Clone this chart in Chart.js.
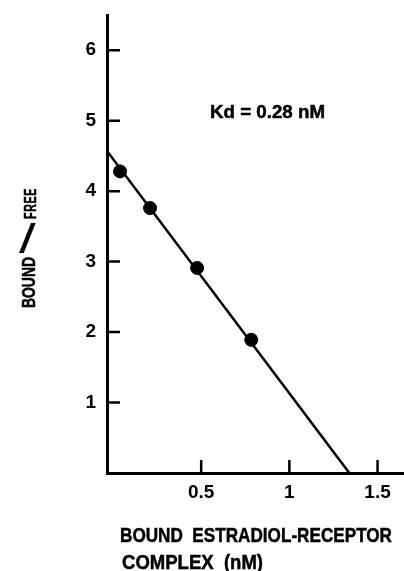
<!DOCTYPE html>
<html>
<head>
<meta charset="utf-8">
<script src="https://cdn.jsdelivr.net/npm/chart.js@4"></script>
<style>
  body { margin: 0; background: #fff; }
  #wrap { width: 404px; height: 571px; position: relative; }
</style>
</head>
<body>
<div id="wrap"><canvas id="scatchard"></canvas></div>
<script>
// measured points (bound nM, bound/free)
const boundValues = [0.04, 0.21, 0.477, 0.784];
const ratioValues = [4.28, 3.76, 2.91, 1.89];

// fitted line end points
const fitX = [-0.034, 1.34];
const fitY = [4.57, 0];

const xTicks = [0.5, 1, 1.5];
const xTickLabels = ['0.5', '1', '1.5'];
const yTicks = [1, 2, 3, 4, 5, 6];

const kdLabel = 'Kd = 0.28 nM';
const xTitle = ['BOUND  ESTRADIOL-RECEPTOR', 'COMPLEX  (nM)'];
const yTitle = ['BOUND', '/', 'FREE'];

const FONT = "'Liberation Sans', Arial, sans-serif";

// draw text squeezed to a given width (the original uses a condensed face)
function fitText(ctx, text, x, y, width, size) {
  ctx.font = 'bold ' + size + 'px ' + FONT;
  const w = ctx.measureText(text).width;
  ctx.save();
  ctx.translate(x, y);
  ctx.scale(width / w, 1);
  ctx.fillText(text, 0, 0);
  ctx.strokeText(text, 0, 0);
  ctx.restore();
}

// same but running upwards, starting at yBottom
function upText(ctx, text, x, yBottom, length, size) {
  ctx.font = 'bold ' + size + 'px ' + FONT;
  const w = ctx.measureText(text).width;
  ctx.save();
  ctx.translate(x, yBottom);
  ctx.rotate(-Math.PI / 2);
  ctx.scale(length / w, 1);
  ctx.fillText(text, 0, 0);
  ctx.strokeText(text, 0, 0);
  ctx.restore();
}

// inward tick marks + free text
const extras = {
  id: 'extras',
  afterDraw(chart) {
    const ctx = chart.ctx;
    const x = chart.scales.x;
    const y = chart.scales.y;
    const area = chart.chartArea;
    ctx.save();
    ctx.strokeStyle = '#000';
    ctx.lineWidth = 2.5;
    ctx.beginPath();
    yTicks.forEach(v => {
      const py = y.getPixelForValue(v);
      ctx.moveTo(area.left, py);
      ctx.lineTo(area.left + 13, py);
    });
    xTicks.forEach(v => {
      const px = x.getPixelForValue(v);
      ctx.moveTo(px, area.bottom);
      ctx.lineTo(px, area.bottom - 13);
    });
    ctx.stroke();

    ctx.fillStyle = '#000';
    ctx.lineWidth = 0.5;
    ctx.textAlign = 'left';
    ctx.textBaseline = 'alphabetic';
    fitText(ctx, kdLabel, 210, 118, 115, 18);
    fitText(ctx, xTitle[0], 120, 542, 272, 20.5);
    fitText(ctx, xTitle[1], 122, 569, 141, 20.5);

    // y title: BOUND, a long upright slash, then FREE spaced out
    upText(ctx, yTitle[0], 35, 308, 51, 17.5);
    ctx.save();
    ctx.font = '40px ' + FONT;
    ctx.translate(19, 253);
    ctx.scale(1.5, 1);
    ctx.fillText(yTitle[1], 0, 0);
    ctx.restore();
    ctx.letterSpacing = '1px';
    upText(ctx, yTitle[2], 36, 219, 31, 16);
    ctx.restore();
  }
};

new Chart(document.getElementById('scatchard'), {
  type: 'scatter',
  data: {
    datasets: [
      {
        data: boundValues.map((v, i) => ({ x: v, y: ratioValues[i] })),
        backgroundColor: '#000',
        borderColor: '#000',
        pointRadius: 6.5,
        pointHoverRadius: 6.5,
        order: 1
      },
      {
        data: fitX.map((v, i) => ({ x: v, y: fitY[i] })),
        showLine: true,
        borderColor: '#000',
        borderWidth: 2.5,
        pointRadius: 0,
        order: 2
      }
    ]
  },
  options: {
    responsive: true,
    maintainAspectRatio: false,
    animation: false,
    layout: { autoPadding: false, padding: { top: 15, left: 0, right: 0, bottom: 0 } },
    plugins: {
      legend: { display: false },
      tooltip: { enabled: false }
    },
    scales: {
      x: {
        type: 'linear',
        min: -0.034,
        max: 1.65,
        afterBuildTicks: s => { s.ticks = xTicks.map(v => ({ value: v })); },
        afterFit: s => { s.height = 98; s.paddingLeft = 0; s.paddingRight = 0; },
        grid: { drawOnChartArea: false, drawTicks: false },
        border: { display: true, color: '#000', width: 3 },
        ticks: {
          color: '#000',
          padding: 8,
          font: { family: FONT, size: 19, weight: 'bold' },
          callback: (v, i) => xTickLabels[i]
        }
      },
      y: {
        type: 'linear',
        min: 0,
        max: 6.5,
        afterBuildTicks: s => { s.ticks = yTicks.map(v => ({ value: v })); },
        afterFit: s => { s.width = 107; s.paddingTop = 0; s.paddingBottom = 0; },
        grid: { drawOnChartArea: false, drawTicks: false },
        border: { display: true, color: '#000', width: 3 },
        ticks: {
          color: '#000',
          padding: 11,
          font: { family: FONT, size: 19, weight: 'bold' }
        }
      }
    }
  },
  plugins: [extras]
});
</script>
</body>
</html>
